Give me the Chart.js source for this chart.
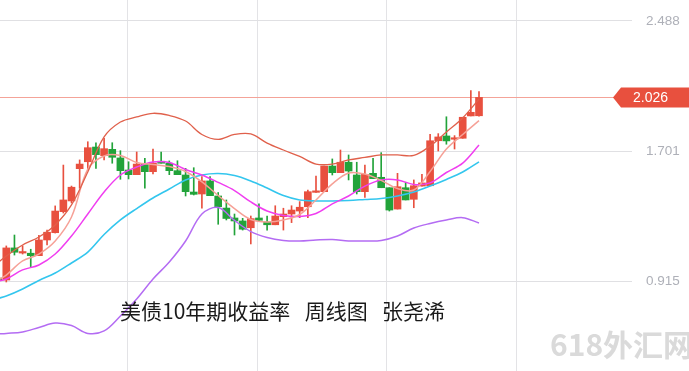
<!DOCTYPE html>
<html><head><meta charset="utf-8">
<script src="https://cdn.jsdelivr.net/npm/chart.js@4.4.1/dist/chart.umd.min.js"></script>
<style>
html,body{margin:0;padding:0;background:#fff;}
#wrap{width:689px;height:371px;position:relative;overflow:hidden;}
#c{position:absolute;left:0;top:0;}
#title{position:absolute;left:120px;top:300px;font:21px/21px "Noto Sans CJK SC",sans-serif;color:#1a1a1a;white-space:pre;word-spacing:2.5px;}
#mark{position:absolute;left:550px;top:328px;font:bold 30px/30px "Noto Sans CJK SC",sans-serif;color:#dadada;white-space:pre;}
</style>
</head><body>
<div id="wrap">
<canvas id="c" width="689" height="371"></canvas>
<div id="title">美债10年期收益率  周线图  张尧浠</div>
<div id="mark">618外汇网</div>
</div>
<script>
// weekly candles, index -1 .. 58
const weeks = [-1,0,1,2,3,4,5,6,7,8,9,10,11,12,13,14,15,16,17,18,19,20,21,22,23,24,25,26,27,28,29,30,31,32,33,34,35,36,37,38,39,40,41,42,43,44,45,46,47,48,49,50,51,52,53,54,55,56,57,58];
const opens = [0.934,0.922,1.116,1.085,1.084,1.069,1.164,1.208,1.335,1.400,1.595,1.637,1.726,1.674,1.712,1.660,1.587,1.559,1.623,1.577,1.640,1.628,1.583,1.557,1.454,1.442,1.521,1.430,1.357,1.297,1.279,1.238,1.297,1.273,1.256,1.305,1.321,1.339,1.365,1.452,1.456,1.611,1.571,1.634,1.557,1.456,1.567,1.543,1.480,1.351,1.480,1.410,1.490,1.492,1.764,1.793,1.773,1.779,1.914,1.915];
const highs = [0.945,1.128,1.194,1.129,1.108,1.192,1.224,1.370,1.617,1.490,1.648,1.758,1.752,1.779,1.752,1.704,1.637,1.696,1.658,1.714,1.696,1.642,1.643,1.597,1.601,1.547,1.547,1.451,1.406,1.321,1.295,1.309,1.382,1.309,1.371,1.356,1.371,1.396,1.466,1.551,1.611,1.654,1.708,1.678,1.634,1.617,1.658,1.692,1.480,1.567,1.513,1.527,1.561,1.803,1.807,1.909,1.795,1.906,2.067,2.061];
const lows = [0.905,0.910,1.073,1.079,1.003,1.069,1.134,1.206,1.327,1.388,1.477,1.587,1.597,1.648,1.628,1.531,1.533,1.559,1.477,1.563,1.628,1.559,1.559,1.430,1.436,1.357,1.432,1.259,1.285,1.194,1.224,1.140,1.279,1.224,1.256,1.224,1.269,1.299,1.299,1.452,1.456,1.557,1.571,1.527,1.442,1.422,1.535,1.480,1.339,1.351,1.406,1.359,1.490,1.492,1.702,1.743,1.714,1.779,1.914,1.912];
const closes = [0.919,1.116,1.090,1.093,1.069,1.164,1.211,1.339,1.406,1.483,1.623,1.722,1.680,1.716,1.664,1.583,1.559,1.623,1.577,1.628,1.628,1.583,1.559,1.456,1.440,1.521,1.432,1.365,1.294,1.279,1.229,1.293,1.283,1.256,1.309,1.321,1.345,1.362,1.456,1.460,1.611,1.571,1.634,1.581,1.456,1.561,1.535,1.480,1.345,1.486,1.406,1.492,1.509,1.764,1.787,1.763,1.776,1.906,1.936,2.026];

// indicator lines, read every other week
const lineWeeks = [-1,0,2,4,6,8,10,12,14,16,18,20,22,24,26,28,30,32,34,36,38,40,42,44,46,48,50,52,54,56,58];
const bollUpper = [1.027,1.067,1.134,1.182,1.255,1.376,1.575,1.787,1.877,1.908,1.930,1.917,1.883,1.802,1.772,1.802,1.805,1.750,1.708,1.669,1.623,1.623,1.648,1.663,1.678,1.678,1.675,1.732,1.817,1.902,2.016];
const ma5 = [0.922,0.952,1.037,1.079,1.158,1.303,1.593,1.672,1.675,1.633,1.620,1.608,1.578,1.515,1.433,1.354,1.288,1.273,1.285,1.318,1.406,1.503,1.569,1.563,1.524,1.475,1.466,1.578,1.714,1.802,1.886];
const ma10 = [0.916,0.928,0.983,1.013,1.079,1.188,1.321,1.454,1.557,1.605,1.636,1.633,1.590,1.557,1.512,1.463,1.394,1.339,1.312,1.306,1.324,1.382,1.430,1.490,1.527,1.527,1.500,1.509,1.572,1.629,1.738];
const ma20 = [0.811,0.825,0.868,0.919,0.964,1.025,1.091,1.197,1.285,1.354,1.418,1.472,1.527,1.557,1.566,1.554,1.521,1.478,1.433,1.406,1.400,1.400,1.403,1.409,1.415,1.430,1.454,1.490,1.530,1.575,1.636];
const bollLower = [0.596,0.599,0.608,0.635,0.662,0.647,0.599,0.614,0.704,0.807,0.928,1.031,1.158,1.321,1.360,1.282,1.215,1.179,1.161,1.158,1.164,1.167,1.158,1.158,1.161,1.188,1.236,1.264,1.285,1.299,1.267];

const yTicks = [0.915, 1.701, 2.488];
const gridCols = [14.93, 30.88, 46.71, 62.66];

const RED = '#e8503f', GREEN = '#22a33a';
const up = i => closes[i] >= opens[i];
const pts = (xs, ys) => xs.map((x, i) => ({x: x, y: ys[i]}));
const lineDs = (label, ys, color, w) => ({type:'line', label, data: pts(lineWeeks, ys), borderColor: color, borderWidth: w, pointRadius: 0, tension: 0.35, fill: false, order: 0});

const priceLine = {
  id: 'priceLine',
  beforeDatasetsDraw(chart) {
    const y = chart.scales.y.getPixelForValue(closes[closes.length - 1]);
    const ctx = chart.ctx;
    ctx.save();
    ctx.strokeStyle = '#f4a398';
    ctx.lineWidth = 1;
    ctx.beginPath();
    ctx.moveTo(0, Math.round(y) + 0.5);
    ctx.lineTo(614, Math.round(y) + 0.5);
    ctx.stroke();
    ctx.restore();
  },
  afterDraw(chart) {
    const y = Math.round(chart.scales.y.getPixelForValue(closes[closes.length - 1])) + 0.5;
    const ctx = chart.ctx;
    ctx.save();
    ctx.fillStyle = '#e8503e';
    ctx.beginPath();
    ctx.moveTo(613, y);
    ctx.lineTo(621, y - 10);
    ctx.lineTo(689, y - 10);
    ctx.lineTo(689, y + 10);
    ctx.lineTo(621, y + 10);
    ctx.closePath();
    ctx.fill();
    ctx.fillStyle = '#ffffff';
    ctx.font = '14px "Liberation Sans", Arial, sans-serif';
    ctx.textBaseline = 'middle';
    ctx.textAlign = 'left';
    ctx.fillText(closes[closes.length - 1].toFixed(3), 633, y + 0.5);
    ctx.restore();
  }
};

new Chart(document.getElementById('c'), {
  type: 'bar',
  data: {
    datasets: [
      lineDs('BOLL UP', bollUpper, '#e0604b', 1.3),
      lineDs('MA5', ma5, '#f6a197', 1.5),
      lineDs('MA10', ma10, '#f03ef0', 1.5),
      lineDs('MA20', ma20, '#33c6ee', 1.6),
      lineDs('BOLL DN', bollLower, '#b46cf3', 1.5),
      {
        label: 'body', order: 1, grouped: false, barThickness: 7, minBarLength: 1.5, borderWidth: 0,
        data: weeks.map((w, i) => ({x: w, y: [opens[i], closes[i]]})),
        backgroundColor: ctx => up(ctx.dataIndex) ? RED : GREEN
      },
      {
        label: 'wick', order: 2, grouped: false, barThickness: 1, minBarLength: 1, borderWidth: 0,
        data: weeks.map((w, i) => ({x: w, y: [lows[i], highs[i]]})),
        backgroundColor: ctx => up(ctx.dataIndex) ? RED : GREEN
      }
    ]
  },
  options: {
    responsive: false,
    animation: false,
    devicePixelRatio: 1,
    layout: {padding: 0},
    plugins: {legend: {display: false}, tooltip: {enabled: false}, title: {display: false}},
    scales: {
      x: {
        type: 'linear', min: -0.773, max: 76.773, offset: false,
        ticks: {display: false},
        grid: {color: '#e3e3e6', drawTicks: false, lineWidth: 1, offset: false},
        border: {display: false},
        afterBuildTicks: s => { s.ticks = gridCols.map(v => ({value: v})); },
        afterFit: s => { s.height = 0; s.paddingLeft = 0; s.paddingRight = 0; }
      },
      y: {
        type: 'linear', position: 'right', min: 0.37183, max: 2.61497,
        ticks: {color: '#aeb0b8', padding: 14, autoSkip: false, font: {size: 13.5, family: '"Liberation Sans", Arial, sans-serif'}, callback: v => v.toFixed(3)},
        grid: {color: '#e0e0e3', drawTicks: false, lineWidth: 1},
        border: {display: false},
        afterBuildTicks: s => { s.ticks = yTicks.map(v => ({value: v})); },
        afterFit: s => { s.width = 57; s.paddingTop = 0; s.paddingBottom = 0; }
      }
    }
  },
  plugins: [priceLine]
});
</script>
</body></html>
